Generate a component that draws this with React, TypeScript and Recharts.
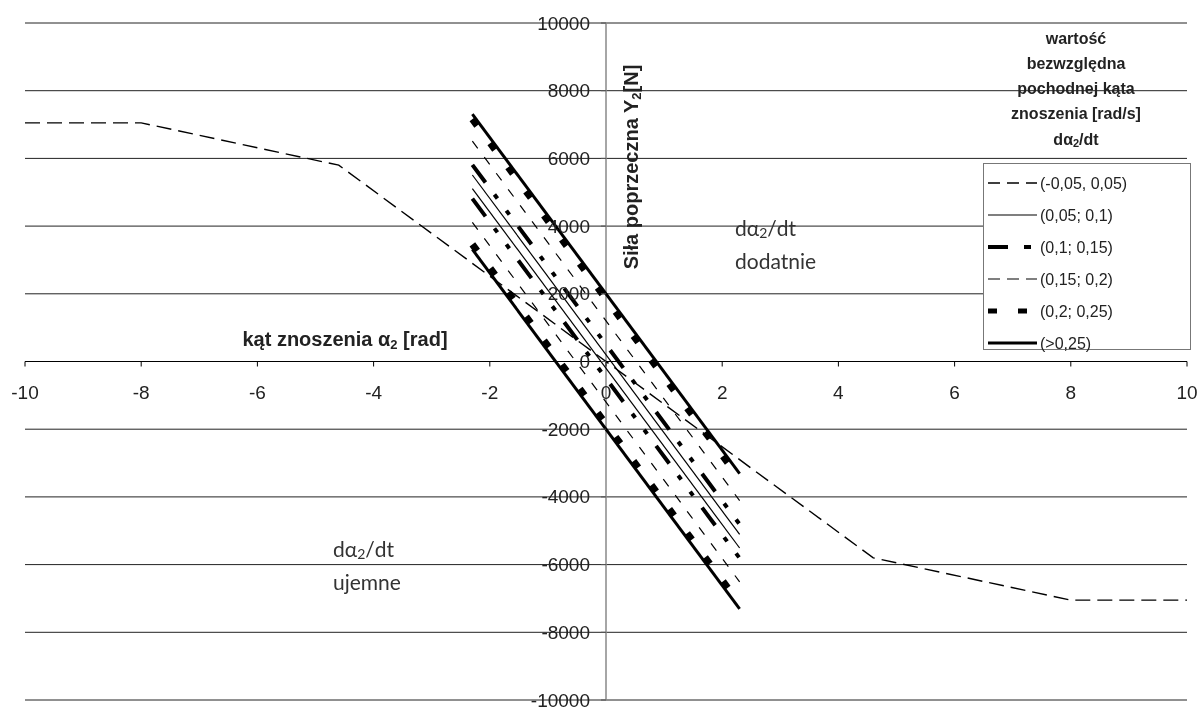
import { LineChart, Line, XAxis, YAxis, CartesianGrid, ReferenceLine } from 'recharts';

const xTicks = [-10, -8, -6, -4, -2, 0, 2, 4, 6, 8, 10];
const yTicks = [-10000, -8000, -6000, -4000, -2000, 0, 2000, 4000, 6000, 8000, 10000];

// (-0,05, 0,05) - one broken line across the whole range
const wideX = [-10, -8, -4.6, 4.6, 8, 10];
const wideY = [7050, 7050, 5800, -5800, -7050, -7050];

// parallel lines, each pair: positive / negative derivative
const bandX = [-2.3, 2.3];
const s05Upper = [5510, -5110];
const s05Lower = [5110, -5510];
const s10Upper = [5810, -4810];
const s10Lower = [4810, -5810];
const s15Upper = [6510, -4110];
const s15Lower = [4110, -6510];
const s20Upper = [7160, -3460];
const s20Lower = [3460, -7160];
const s25Upper = [7310, -3310];
const s25Lower = [3310, -7310];

const legendLabels = ['(-0,05, 0,05)', '(0,05; 0,1)', '(0,1; 0,15)', '(0,15; 0,2)', '(0,2; 0,25)', '(>0,25)'];
const legendTitle = ['wartość', 'bezwzględna', 'pochodnej kąta', 'znoszenia [rad/s]'];

const W = 1191;
const H = 701;
const AXIS_W = 1;
const MARGIN = { top: 15, right: 12, bottom: 9 - AXIS_W, left: 17 - AXIS_W };
const PLOT_W = W - 17 - MARGIN.right;
const PLOT_H = H - MARGIN.top - 9;
const ZERO_X = 17 + PLOT_W / 2;
const ZERO_Y = MARGIN.top + PLOT_H / 2;

const FONT = '"Liberation Sans", Arial, sans-serif';

const pts = (xs: number[], ys: number[]) => xs.map((x, i) => ({ x, y: ys[i] }));

const styles = [
  { width: 1.4, dash: '15 7', legendDash: '12 7' },
  { width: 1.2, dash: undefined, legendDash: undefined },
  { width: 4, dash: '22 15 5 15 5 15', legendDash: '20 16 7 20' },
  { width: 1.2, dash: '9 11', legendDash: '12 7' },
  { width: 7, dash: '8 22', legendDash: '9 21' },
  { width: 3, dash: undefined, legendDash: undefined },
];

const series = [
  { id: 'a0', s: 0, data: pts(wideX, wideY) },
  { id: 'b1', s: 1, data: pts(bandX, s05Upper) },
  { id: 'b2', s: 1, data: pts(bandX, s05Lower) },
  { id: 'c1', s: 2, data: pts(bandX, s10Upper) },
  { id: 'c2', s: 2, data: pts(bandX, s10Lower) },
  { id: 'd1', s: 3, data: pts(bandX, s15Upper) },
  { id: 'd2', s: 3, data: pts(bandX, s15Lower) },
  { id: 'e1', s: 4, data: pts(bandX, s20Upper) },
  { id: 'e2', s: 4, data: pts(bandX, s20Lower) },
  { id: 'f1', s: 5, data: pts(bandX, s25Upper) },
  { id: 'f2', s: 5, data: pts(bandX, s25Lower) },
];

const renderXTick = (props: any) => {
  const { x, payload } = props;
  return (
    <g>
      <line x1={x} x2={x} y1={ZERO_Y} y2={ZERO_Y + 5} stroke="#000" />
      <text x={x} y={ZERO_Y + 31} textAnchor="middle" dominantBaseline="central" fontSize={19} fontFamily={FONT} fill="#222">
        {payload.value}
      </text>
    </g>
  );
};

const renderYTick = (props: any) => {
  const { y, payload } = props;
  return (
    <g>
      <line x1={ZERO_X - 5} x2={ZERO_X} y1={y} y2={y} stroke="#555" />
      <text x={ZERO_X - 16} y={y} textAnchor="end" dominantBaseline="central" fontSize={19} fontFamily={FONT} fill="#222">
        {payload.value}
      </text>
    </g>
  );
};

export default function App() {
  return (
    <div style={{ position: 'fixed', left: 8, top: 8, width: W, height: H }}>
      <LineChart width={W} height={H} margin={MARGIN}>
        <CartesianGrid vertical={false} stroke="#222" />
        <XAxis
          type="number"
          dataKey="x"
          domain={[-10, 10]}
          ticks={xTicks}
          interval={0}
          height={AXIS_W}
          axisLine={false}
          tickLine={false}
          tick={renderXTick}
        />
        <YAxis
          type="number"
          dataKey="y"
          domain={[-10000, 10000]}
          ticks={yTicks}
          interval={0}
          width={AXIS_W}
          axisLine={false}
          tickLine={false}
          tick={renderYTick}
        />
        <ReferenceLine y={0} stroke="#000" />
        <ReferenceLine x={0} stroke="#888" strokeWidth={1.5} />
        {series.map((ln) => (
          <Line
            key={ln.id}
            data={ln.data}
            dataKey="y"
            type="linear"
            stroke="#000"
            strokeWidth={styles[ln.s].width}
            strokeDasharray={styles[ln.s].dash}
            dot={false}
            activeDot={false}
            isAnimationActive={false}
          />
        ))}
      </LineChart>

      <svg width={W} height={H} style={{ position: 'absolute', left: 0, top: 0, pointerEvents: 'none' }}>
        <text x={337} y={331} textAnchor="middle" dominantBaseline="central" fontSize={20} fontWeight="bold" fontFamily={FONT} fill="#222">
          kąt znoszenia α<tspan fontSize={13} dy={5}>2</tspan>
          <tspan dy={-5}> [rad]</tspan>
        </text>
        <text
          transform="translate(623,159) rotate(-90)"
          textAnchor="middle"
          dominantBaseline="central"
          fontSize={20}
          fontWeight="bold"
          fontFamily={FONT}
          fill="#222"
        >
          Siła poprzeczna Y<tspan fontSize={13} dy={5}>2</tspan>
          <tspan dy={-5}>[N]</tspan>
        </text>

        <g fontFamily="Lato, sans-serif" fontSize={21} fill="#333">
          <text x={727} y={219} dominantBaseline="central">
            dα<tspan fontSize={14} dy={5}>2</tspan>
            <tspan dy={-5}>/dt</tspan>
          </text>
          <text x={727} y={252} dominantBaseline="central">dodatnie</text>
          <text x={325} y={540} dominantBaseline="central">
            dα<tspan fontSize={14} dy={5}>2</tspan>
            <tspan dy={-5}>/dt</tspan>
          </text>
          <text x={325} y={573} dominantBaseline="central">ujemne</text>
        </g>

        <g fontFamily={FONT} fontSize={16} fontWeight="bold" fill="#222" textAnchor="middle">
          {legendTitle.map((t, i) => (
            <text key={t} x={1068} y={30 + i * 25} dominantBaseline="central">
              {t}
            </text>
          ))}
          <text x={1068} y={131} dominantBaseline="central">
            dα<tspan fontSize={11} dy={4}>2</tspan>
            <tspan dy={-4}>/dt</tspan>
          </text>
        </g>

        <rect x={975.5} y={155.5} width={207} height={186} fill="#fff" stroke="#777" />
        {legendLabels.map((label, i) => {
          const y = 175 + i * 32;
          return (
            <g key={label}>
              <line
                x1={980}
                x2={1029}
                y1={y}
                y2={y}
                stroke="#000"
                strokeWidth={styles[i].width === 7 ? 5 : styles[i].width}
                strokeDasharray={styles[i].legendDash}
              />
              <text x={1032} y={y} dominantBaseline="central" fontSize={16} fontFamily={FONT} fill="#222">
                {label}
              </text>
            </g>
          );
        })}
      </svg>
    </div>
  );
}
